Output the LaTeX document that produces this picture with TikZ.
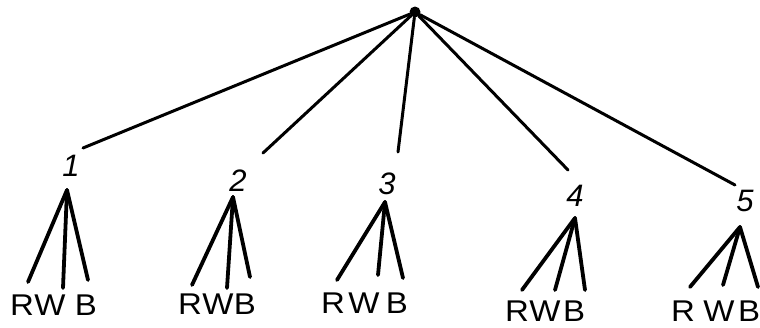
\documentclass[tikz,border=0pt]{standalone}
\usepackage{fontspec}
\setmainfont{Liberation Sans}
\begin{document}
\begin{tikzpicture}[x=1pt,y=-1pt,
  trunk/.style={line width=3pt,line cap=round},
  twig/.style={line width=3.8pt,line cap=round},
  numlabel/.style={font=\fontsize{31}{31}\selectfont\itshape,inner sep=0pt},
  letter/.style={font=\fontsize{30}{30}\selectfont,inner sep=0pt},
  rootdot/.style={circle,fill=black,inner sep=0pt,minimum size=11pt}]
\newcommand\wideletter[1]{\scalebox{1.1}[1]{#1}}
\useasboundingbox (0,0) rectangle (760,327);
\node[rootdot] (root) at (415,12) {};
% number labels
\node[numlabel] (n1) at (71,166) {1};
\node[numlabel] (n2) at (238,181) {2};
\node[numlabel] (n3) at (387,184) {3};
\node[numlabel] (n4) at (575,196) {4};
\node[numlabel] (n5) at (745,201) {5};
% ends of the trunk lines
\coordinate (e1) at (83,148);
\coordinate (e2) at (263,153);
\coordinate (e3) at (398,152);
\coordinate (e4) at (568,170);
\coordinate (e5) at (735,185);
\foreach \i in {1,...,5} \draw[trunk] (root) -- (e\i);
% apexes of the fans
\coordinate (a1) at (67,190);
\coordinate (a2) at (233,197);
\coordinate (a3) at (385,202);
\coordinate (a4) at (575,218);
\coordinate (a5) at (740,227);
% ends of the twigs
\coordinate (r1) at (28,282); \coordinate (w1) at (63,288); \coordinate (b1) at (88,280);
\coordinate (r2) at (192,285); \coordinate (w2) at (227,288); \coordinate (b2) at (250,277);
\coordinate (r3) at (337,280); \coordinate (w3) at (378,275); \coordinate (b3) at (403,278);
\coordinate (r4) at (522,290); \coordinate (w4) at (555,290); \coordinate (b4) at (585,290);
\coordinate (r5) at (690,287); \coordinate (w5) at (723,285); \coordinate (b5) at (758,287);
\foreach \i in {1,...,5} {
  \draw[twig] (a\i) -- (r\i);
  \draw[twig] (a\i) -- (w\i);
  \draw[twig] (a\i) -- (b\i);
}
% letters
\node[letter] (R1) at (22,305) {\wideletter{R}};
\node[letter] (W1) at (50,305) {\wideletter{W}};
\node[letter] (B1) at (86,305) {\wideletter{B}};
\node[letter] (R2) at (190,304) {\wideletter{R}};
\node[letter] (W2) at (218,304) {\wideletter{W}};
\node[letter] (B2) at (245,304) {\wideletter{B}};
\node[letter] (R3) at (333,303) {\wideletter{R}};
\node[letter] (W3) at (364,303) {\wideletter{W}};
\node[letter] (B3) at (397,303) {\wideletter{B}};
\node[letter] (R4) at (517,311) {\wideletter{R}};
\node[letter] (W4) at (545,311) {\wideletter{W}};
\node[letter] (B4) at (574,311) {\wideletter{B}};
\node[letter] (R5) at (683,311) {\wideletter{R}};
\node[letter] (W5) at (719,311) {\wideletter{W}};
\node[letter] (B5) at (749,311) {\wideletter{B}};
\end{tikzpicture}
\end{document}
